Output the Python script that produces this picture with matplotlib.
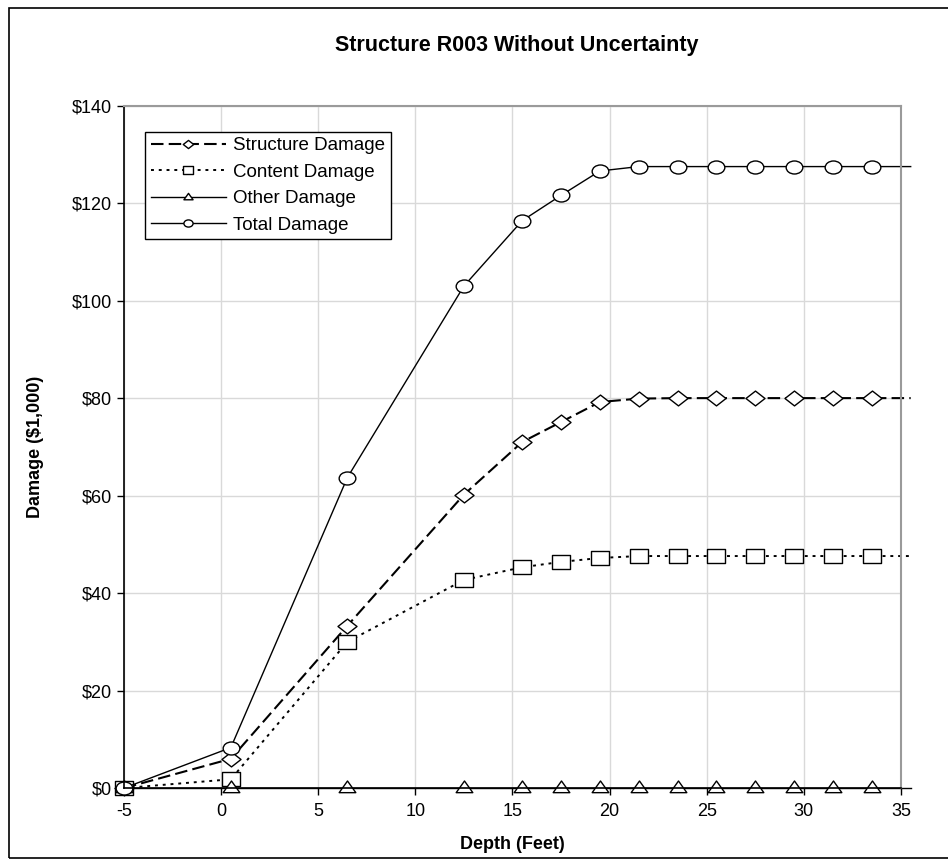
import numpy as np
import matplotlib.pyplot as plt
from matplotlib.path import Path
from matplotlib.patches import Rectangle
from matplotlib.transforms import Affine2D
from matplotlib.ticker import FuncFormatter

plt.rcParams['font.family'] = ['Liberation Sans', 'DejaVu Sans']
plt.rcParams['axes.unicode_minus'] = False

# depth (feet) and damage ($1,000)
depth = [-5, 0.5, 6.5, 12.5, 15.5, 17.5, 19.5, 21.5, 23.5, 25.5, 27.5, 29.5, 31.5, 33.5, 35.5]
structure = [0, 6.0, 33.3, 60.2, 71.0, 75.1, 79.2, 79.9, 80, 80, 80, 80, 80, 80, 80]
content = [0, 1.8, 30.0, 42.7, 45.3, 46.4, 47.2, 47.6, 47.6, 47.6, 47.6, 47.6, 47.6, 47.6, 47.6]
other = [0] * 15
total = [0, 8.3, 63.7, 103.0, 116.4, 121.6, 126.6, 127.5, 127.5, 127.5, 127.5, 127.5, 127.5, 127.5, 127.5]

title = 'Structure R003 Without Uncertainty'
xticks = [-5, 0, 5, 10, 15, 20, 25, 30, 35]
yticks = [0, 20, 40, 60, 80, 100, 120, 140]

# squashed marker shapes (the source chart is a bit stretched sideways)
sq = 0.78
circ = Path(Affine2D().scale(1, sq).transform_path(Path.unit_circle()).vertices,
            Path.unit_circle().codes)
diam = Path([(0, sq), (1, 0), (0, -sq), (-1, 0), (0, sq)], closed=True)
squ = Path([(-1, -sq), (1, -sq), (1, sq), (-1, sq), (-1, -sq)], closed=True)
tri = Path([(-1, -0.5), (1, -0.5), (0, 0.9), (-1, -0.5)], closed=True)

fig = plt.figure(figsize=(9.48, 8.66), dpi=100)
ax = fig.add_axes([0.1308, 0.090, 0.8196, 0.788])

mk = list(range(len(depth) - 1))  # last point only carries the line past the axis
common = dict(color='black', mfc='white', mec='black', mew=1.0, clip_on=False, markevery=mk)

ax.plot(depth, structure, marker=diam, ms=13.7, lw=1.5, dashes=(6, 2.5),
        label='Structure Damage', **common)
ax.plot(depth, content, marker=squ, ms=12.7, lw=1.4, dashes=(1.5, 2.5),
        label='Content Damage', **common)
ax.plot(depth, other, marker=tri, ms=12, lw=1.0, label='Other Damage', **common)
ax.plot(depth, total, marker=circ, ms=12, lw=1.0, label='Total Damage', **common)

ax.set_xlim(-5, 35)
ax.set_ylim(0, 140)
ax.set_xticks(xticks)
ax.set_yticks(yticks)
ax.yaxis.set_major_formatter(FuncFormatter(lambda v, p: f'${v:.0f}'))
ax.tick_params(labelsize=13, length=5, width=1, color='black')
ax.tick_params(axis='x', pad=6)
ax.grid(True, color='#d9d9d9', lw=1)
ax.set_axisbelow(True)

for s in ['left', 'bottom']:
    ax.spines[s].set_color('black')
    ax.spines[s].set_linewidth(1.2)
for s in ['top', 'right']:
    ax.spines[s].set_color('#9a9a9a')
    ax.spines[s].set_linewidth(1.5)

ax.set_xlabel('Depth (Feet)', fontsize=13, fontweight='bold')
ax.set_ylabel('Damage ($1,000)', fontsize=13, fontweight='bold')
ax.xaxis.set_label_coords(0.5, -0.07)
ax.yaxis.set_label_coords(-0.103, 0.5)

fig.text(0.545, 0.948, title, ha='center', va='center', fontsize=15.5, fontweight='bold')

leg = ax.legend(loc='upper left', bbox_to_anchor=(0.027, 0.962), fontsize=13.5,
                markerscale=0.55, handlelength=4.0, handletextpad=0.4,
                labelspacing=0.5, borderpad=0.3, fancybox=False, framealpha=1,
                edgecolor='black', borderaxespad=0)
leg.get_frame().set_linewidth(1.0)

# chart area border
fig.patches.append(Rectangle((9 / 948, 8 / 866), 1.2, 850 / 866, transform=fig.transFigure,
                             fill=False, edgecolor='black', lw=1.2))

fig.savefig('out.png', dpi=100)
